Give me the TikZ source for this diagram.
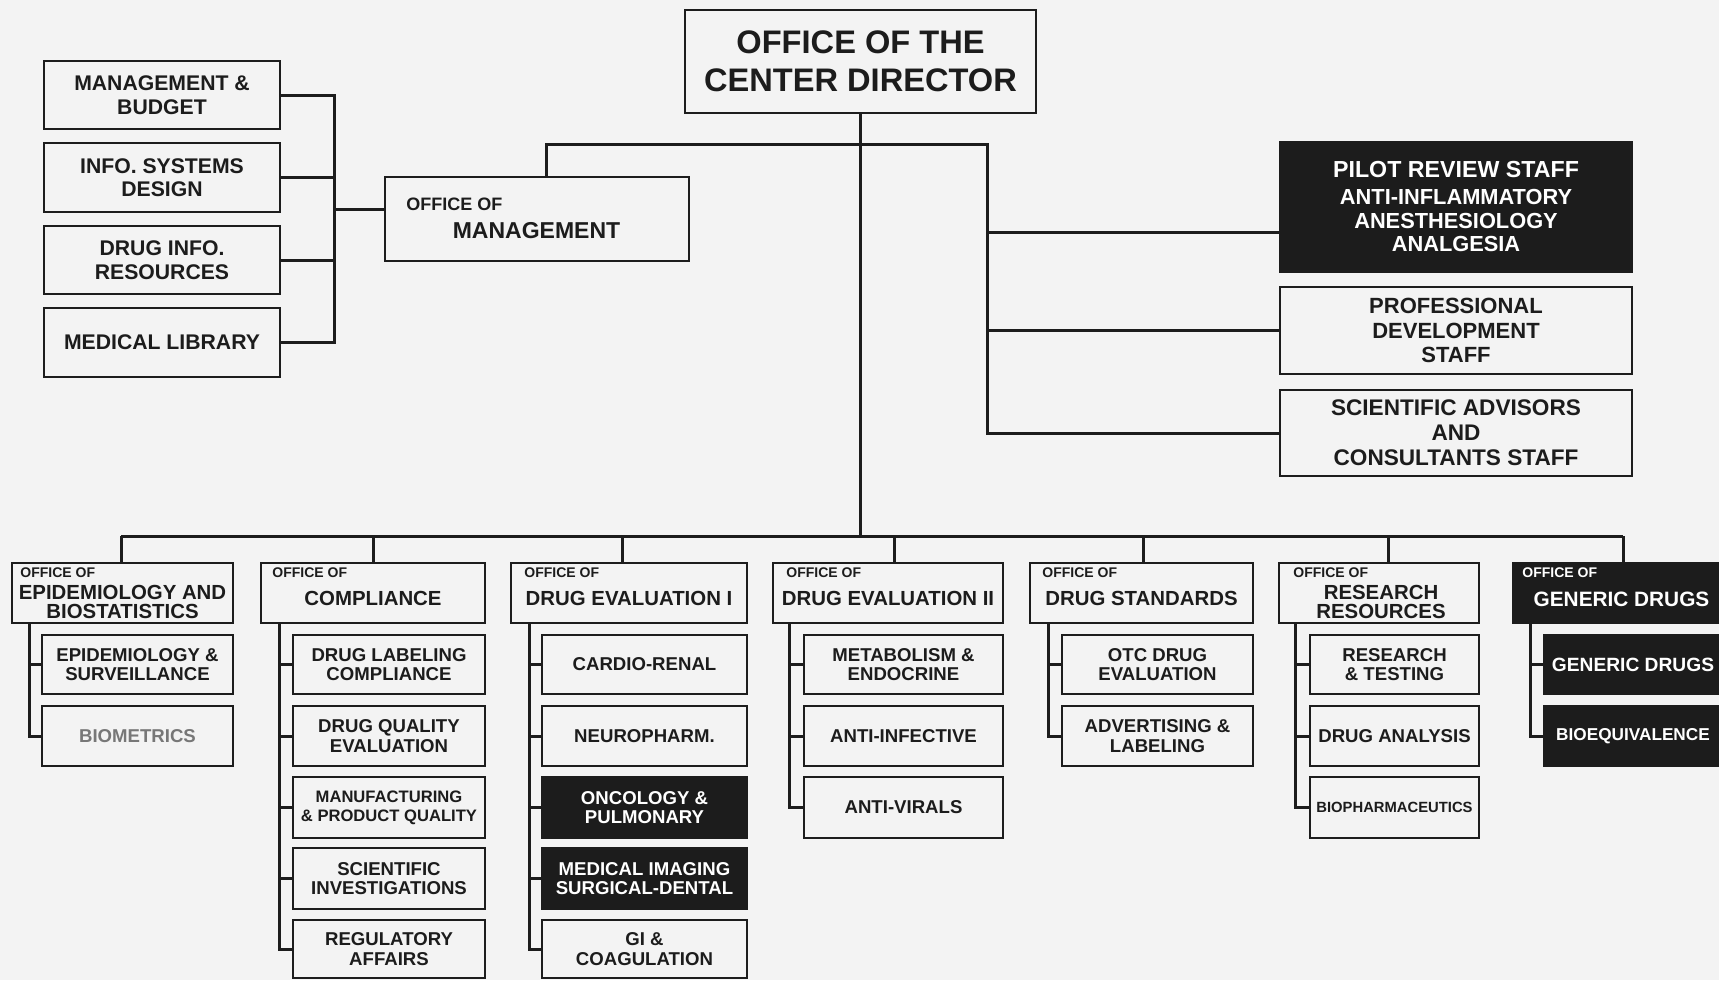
\documentclass[tikz,border=0pt]{standalone}
\usepackage{fontspec}
\setmainfont{Liberation Sans}
\definecolor{bg}{RGB}{243,243,243}
\definecolor{ink}{RGB}{28,28,28}
\newcommand\fs[2]{\bfseries\fontsize{#1}{#2}\selectfont}
\newcommand\orgbox[7]{\node[#6, minimum width={(#4-#2)*0.5pt}, minimum height={(#5-#3)*0.5pt}] (#1) at ({(#2+#4)/2},{(#3+#5)/2}) {#7};}
\tikzset{
  box/.style={draw=ink, line width=1pt, fill=bg, inner sep=0pt, outer sep=0pt, align=center, text=ink},
  dbox/.style={draw=ink, line width=1pt, fill=ink, inner sep=0pt, outer sep=0pt, align=center, text=white},
  conn/.style={draw=ink, line width=1.5pt},
  ofc/.style={inner sep=0pt, anchor=west, font=\fs{7}{8}},
  nm/.style={inner sep=0pt, align=center, text=ink, font=\fs{10.2}{9.5}},
  sub/.style={box, font=\fs{9.3}{9.6}},
  dsub/.style={dbox, font=\fs{9.3}{9.6}},
}
\begin{document}
\begin{tikzpicture}[x=0.5pt,y=-0.5pt]
\useasboundingbox (0,0) rectangle (1719,980);
\clip (0,0) rectangle (1719,980);
\fill[bg] (0,0) rectangle (1719,980);

% ---------- top ----------
\orgbox{dir}{685}{10}{1036}{113}{box, font=\fs{16.3}{19}}{OFFICE OF THE\\CENTER DIRECTOR}

\orgbox{mb}{44}{61}{280}{129}{box, font=\fs{10.6}{11.8}}{MANAGEMENT \&\\BUDGET}
\orgbox{isd}{44}{143}{280}{212}{box, font=\fs{10.6}{11.8}}{INFO. SYSTEMS\\DESIGN}
\orgbox{dri}{44}{226}{280}{294}{box, font=\fs{10.6}{11.8}}{DRUG INFO.\\RESOURCES}
\orgbox{ml}{44}{308}{280}{377}{box, font=\fs{10.6}{11.8}}{MEDICAL LIBRARY}

\orgbox{om}{385}{177}{689}{261}{box}{}
\node[ofc, text=ink, font=\fs{9}{10}] (omlbl) at (406,204) {OFFICE OF};
\node[nm, font=\fs{11.5}{12}] (omname) at (536.5,230.5) {MANAGEMENT};

\orgbox{pilot}{1280}{142}{1632}{272}{dbox, font=\fs{10.9}{11.8}}{{\fontsize{11.6}{12}\selectfont PILOT REVIEW STAFF}\\[1.6pt]ANTI-INFLAMMATORY\\ANESTHESIOLOGY\\ANALGESIA}
\orgbox{prof}{1280}{287}{1632}{374}{box, font=\fs{11}{12.3}}{PROFESSIONAL\\DEVELOPMENT\\STAFF}
\orgbox{sci}{1280}{390}{1632}{476}{box, font=\fs{11.3}{12.4}}{SCIENTIFIC ADVISORS\\AND\\CONSULTANTS STAFF}

% ---------- offices ----------
\orgbox{epi}{12}{563}{233}{623}{box}{}
\node[ofc, text=ink] (epiO) at (20,573) {OFFICE OF};
\node[nm] (epiN) at (122.5,601.5) {EPIDEMIOLOGY AND\\BIOSTATISTICS};

\orgbox{comp}{261}{563}{485}{623}{box}{}
\node[ofc, text=ink] (compO) at (272,573) {OFFICE OF};
\node[nm] (compN) at (373,598) {COMPLIANCE};

\orgbox{deA}{511}{563}{747}{623}{box}{}
\node[ofc, text=ink] (deAO) at (524,573) {OFFICE OF};
\node[nm] (deAN) at (629,598) {DRUG EVALUATION I};

\orgbox{deB}{773}{563}{1003}{623}{box}{}
\node[ofc, text=ink] (deBO) at (786,573) {OFFICE OF};
\node[nm] (deBN) at (888,598) {DRUG EVALUATION II};

\orgbox{ds}{1030}{563}{1253}{623}{box}{}
\node[ofc, text=ink] (dsO) at (1042,573) {OFFICE OF};
\node[nm] (dsN) at (1141.5,598) {DRUG STANDARDS};

\orgbox{rr}{1279}{563}{1479}{623}{box}{}
\node[ofc, text=ink] (rrO) at (1293,573) {OFFICE OF};
\node[nm] (rrN) at (1381,602) {RESEARCH\\RESOURCES};

\orgbox{gd}{1513}{563}{1730}{623}{dbox}{}
\node[ofc, text=white] (gdO) at (1522,573) {OFFICE OF};
\node[nm, text=white, font=\fs{10.4}{11}] (gdN) at (1621.5,599) {GENERIC DRUGS};

% ---------- sub units ----------
\orgbox{epiA}{42}{635}{233}{694}{sub}{EPIDEMIOLOGY \&\\SURVEILLANCE}
\orgbox{epiB}{42}{706}{233}{766}{sub, text=ink!60}{BIOMETRICS}

\orgbox{compA}{293}{635}{485}{694}{sub}{DRUG LABELING\\COMPLIANCE}
\orgbox{compB}{293}{706}{485}{766}{sub}{DRUG QUALITY\\EVALUATION}
\orgbox{compC}{293}{777}{485}{838}{sub, font=\fs{8.3}{9.6}}{MANUFACTURING\\\& PRODUCT QUALITY}
\orgbox{compD}{293}{848}{485}{909}{sub}{SCIENTIFIC\\INVESTIGATIONS}
\orgbox{compE}{293}{920}{485}{978}{sub}{REGULATORY\\AFFAIRS}

\orgbox{deAa}{542}{635}{747}{694}{sub}{CARDIO-RENAL}
\orgbox{deAb}{542}{706}{747}{766}{sub}{NEUROPHARM.}
\orgbox{deAc}{542}{777}{747}{838}{dsub}{ONCOLOGY \&\\PULMONARY}
\orgbox{deAd}{542}{848}{747}{909}{dsub}{MEDICAL IMAGING\\SURGICAL-DENTAL}
\orgbox{deAe}{542}{920}{747}{978}{sub}{GI \&\\COAGULATION}

\orgbox{deBa}{804}{635}{1003}{694}{sub}{METABOLISM \&\\ENDOCRINE}
\orgbox{deBb}{804}{706}{1003}{766}{sub}{ANTI-INFECTIVE}
\orgbox{deBc}{804}{777}{1003}{838}{sub}{ANTI-VIRALS}

\orgbox{dsA}{1062}{635}{1253}{694}{sub}{OTC DRUG\\EVALUATION}
\orgbox{dsB}{1062}{706}{1253}{766}{sub}{ADVERTISING \&\\LABELING}

\orgbox{rrA}{1310}{635}{1479}{694}{sub}{RESEARCH\\\& TESTING}
\orgbox{rrB}{1310}{706}{1479}{766}{sub}{DRUG ANALYSIS}
\orgbox{rrC}{1310}{777}{1479}{838}{sub, font=\fs{7.4}{8}}{BIOPHARMACEUTICS}

\orgbox{gdA}{1544}{635}{1722}{694}{dsub, font=\fs{9.6}{10}}{GENERIC DRUGS}
\orgbox{gdB}{1544}{706}{1722}{766}{dsub, font=\fs{8.6}{9}}{BIOEQUIVALENCE}

% ---------- connectors ----------
\coordinate (busL) at (121,536);
\coordinate (busR) at (1623,536);
\draw[conn] (dir.south) -- (dir.south |- busL);
\draw[conn] (busL) -- (busR);

\coordinate (omS) at (546,144);
\coordinate (rb) at (987,144);
\coordinate (pilotIn) at (1280,232);
\draw[conn] (omS |- om.north) -- (omS) -- (rb) |- (sci.west);
\draw[conn] (rb |- prof.west) -- (prof.west);
\draw[conn] (rb |- pilotIn) -- (pilotIn);

\coordinate (lb) at (334,94);
\coordinate (omIn) at (385,209);
\draw[conn] (mb.east) -| (lb |- ml.east) -- (ml.east);
\draw[conn] (isd.east) -- (isd.east -| lb);
\draw[conn] (dri.east) -- (dri.east -| lb);
\draw[conn] (omIn) -- (omIn -| lb);

\coordinate (sEpi) at (121,536);
\coordinate (sComp) at (373,536);
\coordinate (sDeA) at (622,536);
\coordinate (sDeB) at (894,536);
\coordinate (sDs) at (1143,536);
\coordinate (sRr) at (1388,536);
\coordinate (sGd) at (1623,536);
\draw[conn] (sEpi) -- (sEpi |- epi.north);
\draw[conn] (sComp) -- (sComp |- comp.north);
\draw[conn] (sDeA) -- (sDeA |- deA.north);
\draw[conn] (sDeB) -- (sDeB |- deB.north);
\draw[conn] (sDs) -- (sDs |- ds.north);
\draw[conn] (sRr) -- (sRr |- rr.north);
\draw[conn] (sGd) -- (sGd |- gd.north);

\coordinate (bEpi) at (29,623);
\draw[conn] (bEpi) |- (epiB.west);
\draw[conn] (bEpi |- epiA.west) -- (epiA.west);

\coordinate (bComp) at (279,623);
\draw[conn] (bComp) |- (compE.west);
\draw[conn] (bComp |- compA.west) -- (compA.west);
\draw[conn] (bComp |- compB.west) -- (compB.west);
\draw[conn] (bComp |- compC.west) -- (compC.west);
\draw[conn] (bComp |- compD.west) -- (compD.west);

\coordinate (bDeA) at (529,623);
\draw[conn] (bDeA) |- (deAe.west);
\draw[conn] (bDeA |- deAa.west) -- (deAa.west);
\draw[conn] (bDeA |- deAb.west) -- (deAb.west);
\draw[conn] (bDeA |- deAc.west) -- (deAc.west);
\draw[conn] (bDeA |- deAd.west) -- (deAd.west);

\coordinate (bDeB) at (789,623);
\draw[conn] (bDeB) |- (deBc.west);
\draw[conn] (bDeB |- deBa.west) -- (deBa.west);
\draw[conn] (bDeB |- deBb.west) -- (deBb.west);

\coordinate (bDs) at (1048,623);
\draw[conn] (bDs) |- (dsB.west);
\draw[conn] (bDs |- dsA.west) -- (dsA.west);

\coordinate (bRr) at (1295,623);
\draw[conn] (bRr) |- (rrC.west);
\draw[conn] (bRr |- rrA.west) -- (rrA.west);
\draw[conn] (bRr |- rrB.west) -- (rrB.west);

\coordinate (bGd) at (1530,623);
\draw[conn] (bGd) |- (gdB.west);
\draw[conn] (bGd |- gdA.west) -- (gdA.west);
\end{tikzpicture}
\end{document}
